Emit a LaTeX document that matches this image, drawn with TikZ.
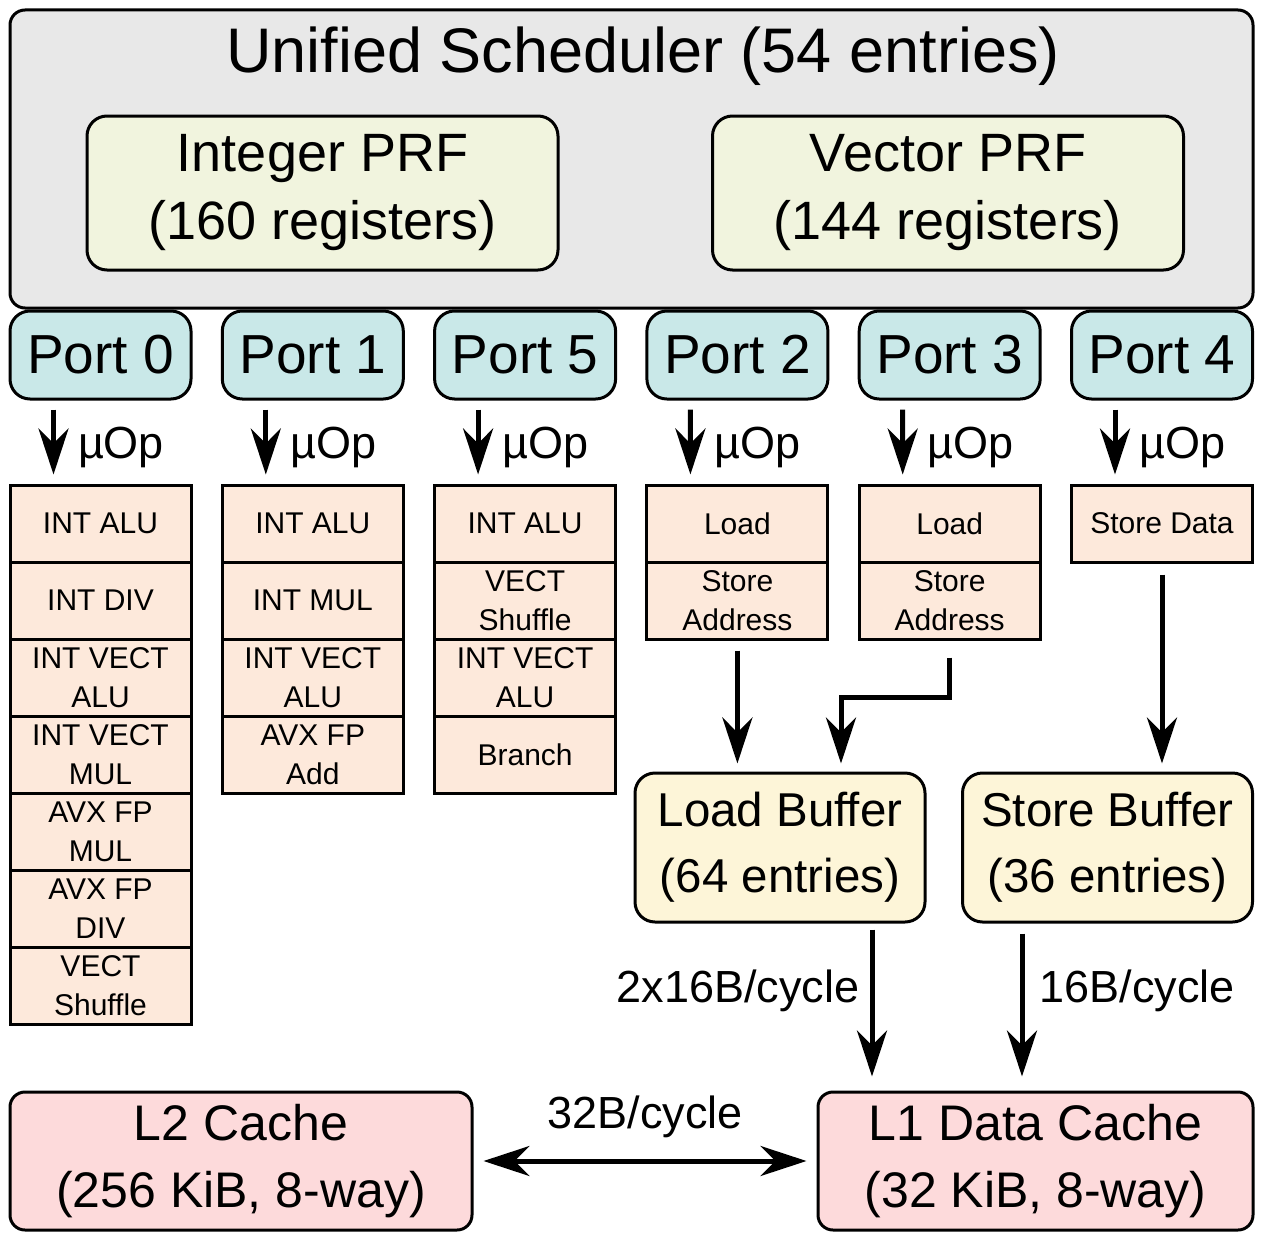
\documentclass[tikz,border=0pt]{standalone}
\usepackage{fontspec}
\setmainfont{Liberation Sans}
\usetikzlibrary{arrows.meta}
\definecolor{schedgray}{HTML}{E8E8E8}
\definecolor{prfgreen}{HTML}{F1F4DE}
\definecolor{portcyan}{HTML}{C9E8E8}
\definecolor{unitpeach}{HTML}{FDE9DB}
\definecolor{bufyellow}{HTML}{FDF5D8}
\definecolor{cachepink}{HTML}{FDDADB}
\begin{document}
\begin{tikzpicture}[x=1pt,y=-1pt,
  box/.style={draw,line width=3pt,inner sep=0pt,align=center},
  sched/.style={box,fill=schedgray,rounded corners=15pt,minimum width=1243pt,minimum height=298pt},
  prf/.style={box,fill=prfgreen,rounded corners=20pt,minimum width=471pt,minimum height=154pt,font=\fontsize{54}{68}\selectfont},
  port/.style={box,fill=portcyan,rounded corners=20pt,minimum width=181pt,minimum height=88pt,font=\fontsize{55}{66}\selectfont},
  unit/.style={box,fill=unitpeach,minimum width=181pt,minimum height=77pt,font=\fontsize{30}{39}\selectfont},
  buf/.style={box,fill=bufyellow,rounded corners=20pt,minimum width=290pt,minimum height=149pt,font=\fontsize{47.5}{66}\selectfont},
  cache/.style={box,fill=cachepink,rounded corners=15pt,minimum height=138pt,font=\fontsize{50}{67}\selectfont},
  arr/.style={line width=5pt,>={Stealth[length=46pt,width=30pt,inset=15pt]},->},
  lbl/.style={inner sep=0pt,font=\fontsize{45}{54}\selectfont}]
\useasboundingbox (0,0) rectangle (1261,1239);
%调度器和寄存器堆
\node[sched] (sched) at (631.5,159) {};
\node[anchor=base,inner sep=0pt,font=\fontsize{63}{70}\selectfont] (title) at (643,73) {Unified Scheduler (54 entries)};
\node[prf] (iprf) at (322.5,193) {Integer PRF\\(160 registers)};
\node[prf] (vprf) at (948,193) {Vector PRF\\(144 registers)};
%端口
\foreach \p [count=\i from 0] in {0,1,5,2,3,4}
  \node[port] (p\p) at ({100.5+212.3*\i},355) {Port \p};
%执行单元
\foreach \t [count=\r] in {INT ALU,INT DIV,{INT VECT\\ALU},{INT VECT\\MUL},{AVX FP\\MUL},{AVX FP\\DIV},{VECT\\Shuffle}}
  \node[unit] (u0-\r) at (100.5,{523.5+77*(\r-1)}) {\t};
\foreach \t [count=\r] in {INT ALU,INT MUL,{INT VECT\\ALU},{AVX FP\\Add}}
  \node[unit] (u1-\r) at (312.8,{523.5+77*(\r-1)}) {\t};
\foreach \t [count=\r] in {INT ALU,{VECT\\Shuffle},{INT VECT\\ALU},Branch}
  \node[unit] (u5-\r) at (525.1,{523.5+77*(\r-1)}) {\t};
\foreach \t [count=\r] in {Load,{Store\\Address}}
  \node[unit] (u2-\r) at (737.4,{523.5+77*(\r-1)}) {\t};
\foreach \t [count=\r] in {Load,{Store\\Address}}
  \node[unit] (u3-\r) at (949.7,{523.5+77*(\r-1)}) {\t};
\node[unit] (u4-1) at (1162,523.5) {Store Data};
\foreach \p in {0,1,5,2,3,4}
  \draw[arr] ([xshift=-47pt,yshift=-9pt]p\p.south) -- ([xshift=-47pt,yshift=9pt]u\p-1.north)
    node[lbl,midway,right=22pt,yshift=-5pt] {µOp};
%缓冲区和缓存
\node[buf] (lb) at (780,847.5) {Load Buffer\\(64 entries)};
\node[buf] (sb) at (1107.5,847.5) {Store Buffer\\(36 entries)};
\node[cache,minimum width=462pt] (l2) at (241,1161) {L2 Cache\\(256 KiB, 8-way)};
\node[cache,minimum width=435pt] (l1) at (1035.5,1161) {L1 Data Cache\\(32 KiB, 8-way)};
\draw[arr] ([yshift=-10pt]u2-2.south) -- ([yshift=8pt]u2-2.south |- lb.north);
\draw[arr] ([yshift=-17pt]u3-2.south) -- ++(0,40) -| ([xshift=61pt,yshift=8pt]lb.north);
\draw[arr] ([yshift=-11pt]u4-1.south) -- ([yshift=8pt]u4-1.south |- sb.north);
\coordinate (lbout) at ([xshift=92pt]lb.south);
\coordinate (sbout) at ([xshift=-85.5pt]sb.south);
\draw[arr] ([yshift=-6pt]lbout) -- ([yshift=14pt]lbout |- l1.north)
  node[lbl,pos=0.42,left=10pt] {2x16B/cycle};
\draw[arr] ([yshift=-10pt]sbout) -- ([yshift=14pt]sbout |- l1.north)
  node[lbl,pos=0.4,right=15pt] {16B/cycle};
\draw[arr,<->] ([xshift=10pt]l2.east) -- ([xshift=-10pt]l1.west)
  node[lbl,midway,above=21pt] {32B/cycle};
\end{tikzpicture}
\end{document}
